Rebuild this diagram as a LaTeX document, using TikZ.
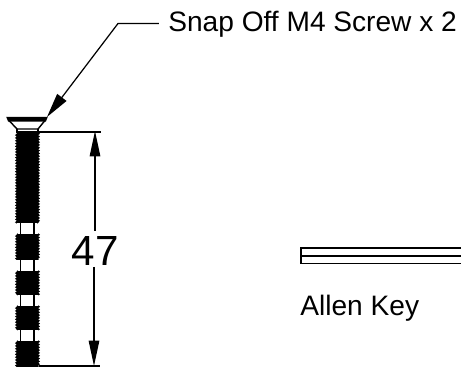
\documentclass[tikz,border=0pt]{standalone}
\usepackage{fontspec}
\setmainfont{Liberation Sans}
\usetikzlibrary{arrows.meta, decorations.pathmorphing}

\tikzset{
	label/.style={anchor=base west, inner sep=0pt, font=\fontsize{16}{18}\selectfont},
	outline/.style={line width=0.8pt},
	thread/.style={draw=black, line width=0.8pt, decorate, decoration={zigzag, segment length=1.6pt, amplitude=0.5pt}},
	dim/.style={line width=0.7pt},
	dimtip/.style={-{Triangle[length=14.5pt, width=6pt]}}
}

\begin{document}
\begin{tikzpicture}[x=0.02cm, y=-0.02cm, line join=miter]

	\useasboundingbox (0,0) rectangle (461,368);

	% screw head
	\draw[outline, line width=1.4pt] (8,118) -- (46,118) -- (45,120.5) -- (9,120.5) -- cycle;
	\draw[outline] (9,120.5) -- (17,129) -- (38,129) -- (45,120.5);
	\draw[outline] (17,129) -- (17,133);
	\draw[outline] (38,129) -- (38,133);
	\draw[outline, line width=0.6pt] (17.5,132) -- (37.5,132);

	% necks between the threaded parts
	\draw[outline] (20.5,223) -- (20.5,234);
	\draw[outline] (34,223) -- (34,234);
	\draw[outline] (20.5,260) -- (20.5,271);
	\draw[outline] (34,260) -- (34,271);
	\draw[outline] (20.5,295) -- (20.5,306);
	\draw[outline] (34,295) -- (34,306);
	\draw[outline] (20.5,330) -- (20.5,341);
	\draw[outline] (34,330) -- (34,341);

	% threaded parts
	\fill[black] (17,133) rectangle (38,223);
	\fill[black] (17,234) rectangle (38,260);
	\fill[black] (17,271) rectangle (38,295);
	\fill[black] (17,306) rectangle (38,330);
	\fill[black] (17,341) rectangle (38,367);
	\draw[thread] (17,133) -- (17,223);
	\draw[thread] (38,133) -- (38,223);
	\draw[thread] (17,234) -- (17,260);
	\draw[thread] (38,234) -- (38,260);
	\draw[thread] (17,271) -- (17,295);
	\draw[thread] (38,271) -- (38,295);
	\draw[thread] (17,306) -- (17,330);
	\draw[thread] (38,306) -- (38,330);
	\draw[thread] (17,341) -- (17,367);
	\draw[thread] (38,341) -- (38,367);

	% leader to the screw head
	\coordinate (headtip) at (47,117);
	\coordinate (bend) at (118,23.5);
	\node[label] (snaplabel) at (168,32) {Snap Off M4 Screw x 2};
	\draw[dim, -{Triangle[length=14pt, width=6.5pt]}] (snaplabel.base west |- bend) ++(-9,0) -- (bend) -- (headtip);

	% dimension
	\coordinate (topext) at (39,132);
	\coordinate (botext) at (39,366);
	\coordinate (toptip) at (95,131);
	\coordinate (bottip) at (94,366);
	\node[anchor=base west, inner sep=0pt, font=\fontsize{24}{26}\selectfont] (dimlabel) at (71.5,266) {47};
	\draw[dim] (topext) -- (101,132);
	\draw[dim] (botext) -- (100,366);
	\draw[dim, dimtip] (95,231) -- (toptip);
	\draw[dim, dimtip] (94,267) -- (bottip);

	% allen key
	\draw[line width=0.9pt] (461,248) -- (301,248) -- (301,263.5) -- (461,263.5);
	\draw[line width=0.6pt] (301,256) -- (461,256);
	\node[label] (keylabel) at (300,316) {Allen Key};

\end{tikzpicture}
\end{document}
